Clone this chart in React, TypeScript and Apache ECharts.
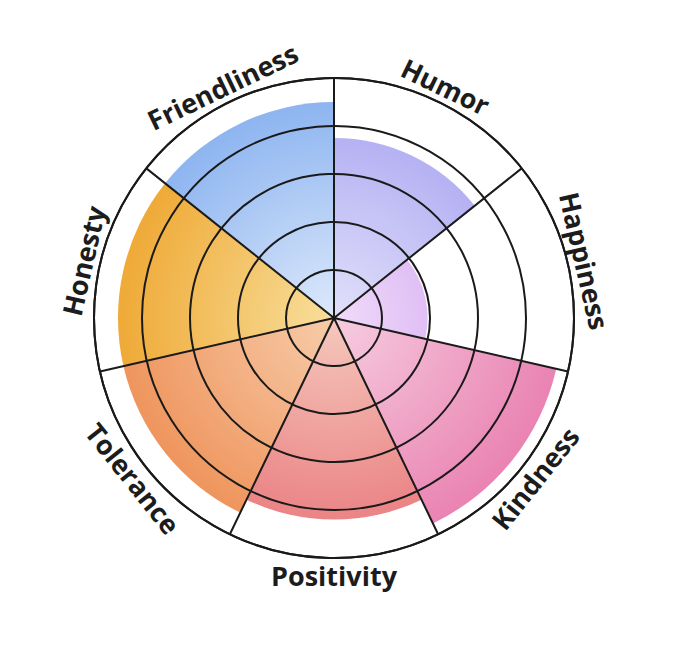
import React, { useEffect, useRef } from "react";
import * as echarts from "echarts";

const categories = ["Humor", "Happiness", "Kindness", "Positivity", "Tolerance", "Honesty", "Friendliness"];
const values = [3.75, 1.95, 4.75, 4.2, 4.5, 4.5, 4.5];
const innerColors = ["#e2e0fa", "#f0dcf9", "#f6cde0", "#f5c8bd", "#f7ccaa", "#f8df9c", "#dde9fb"];
const outerColors = ["#a6a2f1", "#c892ef", "#e97fb0", "#e9777b", "#ee8f55", "#eea42c", "#85afef"];
const radiusMin = 0;
const radiusMax = 5;
const radiusStep = 1;

const CX = 334;
const CY = 318;
const R = 240;
const LABEL_R = 257;

export default function App() {
  const ref = useRef<HTMLDivElement>(null);
  useEffect(() => {
    if (!ref.current) return;
    const chart = echarts.init(ref.current, null, { renderer: "svg" });
    const n = categories.length;
    const labels = categories.map((name, i) => {
      const deg = 90 - (360 / n) * (i + 0.5);
      let d = deg;
      while (d > 180) d -= 360;
      while (d <= -180) d += 360;
      const rad = (d * Math.PI) / 180;
      const x = CX + LABEL_R * Math.cos(rad);
      const y = CY - LABEL_R * Math.sin(rad);
      const rotDeg = d >= -5 ? d - 90 : d + 90;
      return {
        type: "text",
        x,
        y,
        rotation: (rotDeg * Math.PI) / 180,
        z: 20,
        style: {
          text: name,
          fill: "#1c1c1c",
          fontFamily: "Open Sans",
          fontWeight: 700,
          fontSize: 27,
          align: "center",
          verticalAlign: "middle",
        },
      };
    });
    const option = {
      animation: false,
      backgroundColor: "#ffffff",
      polar: { center: [CX, CY], radius: [0, R] },
      angleAxis: {
        type: "category",
        data: categories,
        startAngle: 90,
        clockwise: true,
        z: 10,
        boundaryGap: true,
        axisLine: { show: true, lineStyle: { color: "#1a1a1a", width: 2 } },
        axisTick: { show: false },
        axisLabel: { show: false },
        splitLine: { show: true, lineStyle: { color: "#1a1a1a", width: 2 } },
      },
      radiusAxis: {
        type: "value",
        min: radiusMin,
        max: radiusMax,
        interval: radiusStep,
        z: 10,
        axisLine: { show: false },
        axisTick: { show: false },
        axisLabel: { show: false },
        splitLine: { show: true, lineStyle: { color: "#1a1a1a", width: 2 } },
      },
      series: [
        {
          type: "bar",
          coordinateSystem: "polar",
          barCategoryGap: "0%",
          z: 2,
          data: values.map((v, i) => ({
            value: v,
            itemStyle: {
              color: new echarts.graphic.RadialGradient(
                CX,
                CY,
                R,
                [
                  { offset: 0, color: innerColors[i] },
                  { offset: 1, color: outerColors[i] },
                ],
                true
              ),
            },
          })),
        },
      ],
      graphic: labels,
    };
    chart.setOption(option as any);
    return () => chart.dispose();
  }, []);
  return (
    <div
      ref={ref}
      style={{ position: "fixed", left: 0, top: 0, width: 680, height: 649, background: "#fff" }}
    />
  );
}
